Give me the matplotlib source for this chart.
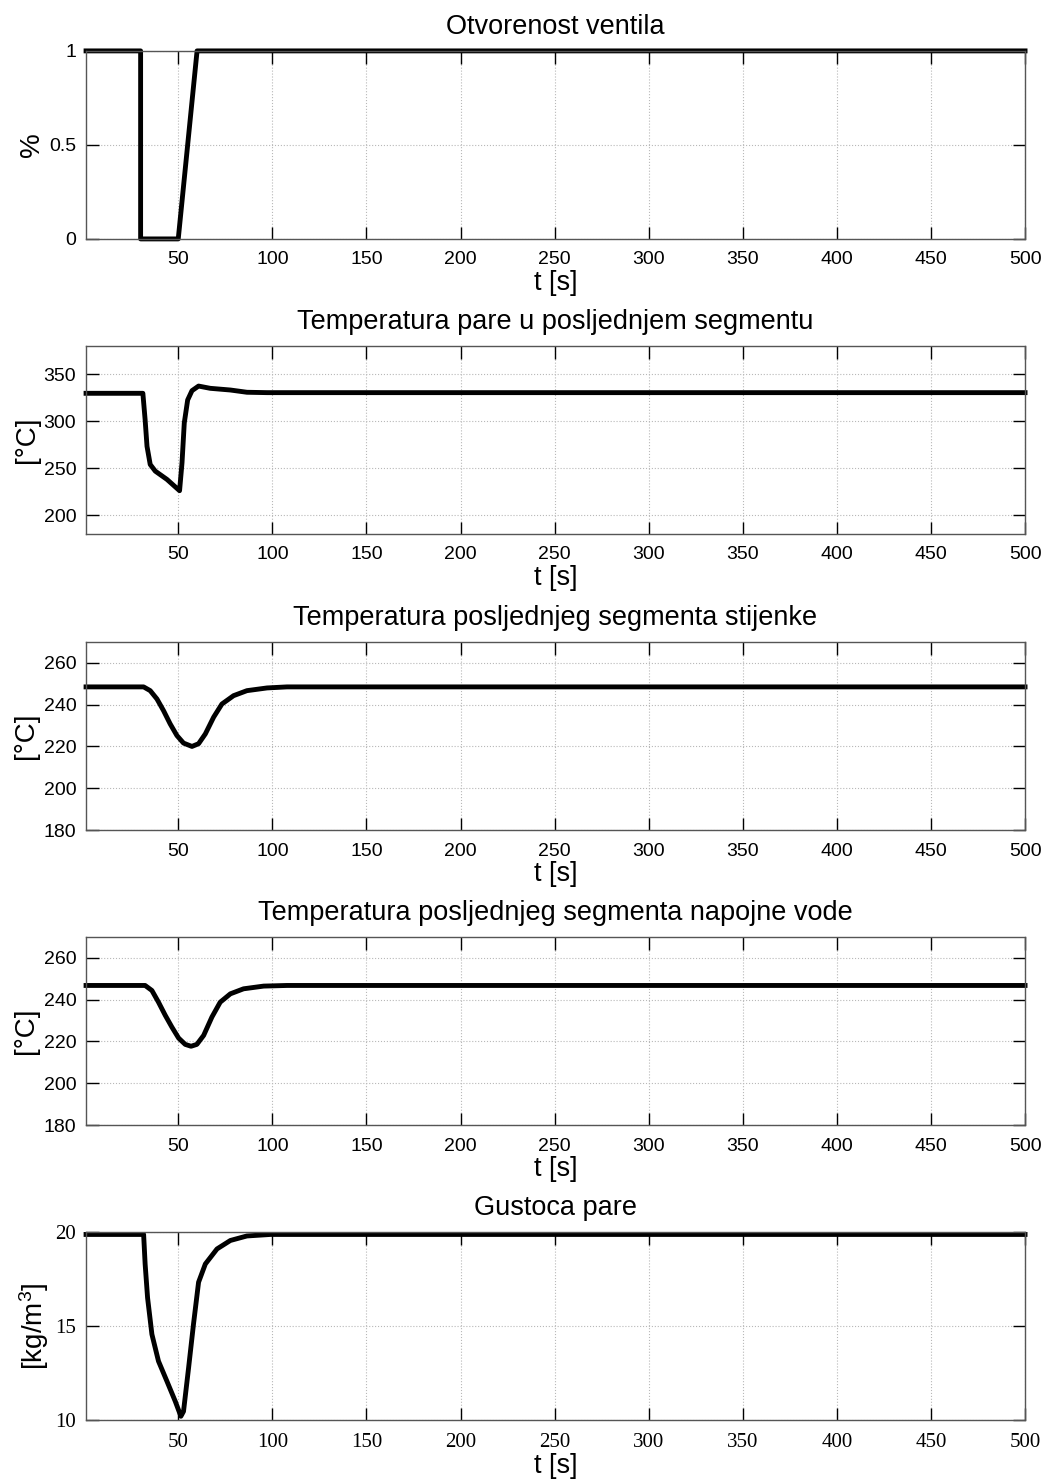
"""Five stacked MATLAB-style response plots for a valve closing step."""

import matplotlib

matplotlib.use("Agg")
import matplotlib.pyplot as plt

plt.rcParams["font.family"] = ["Liberation Sans", "DejaVu Sans"]
plt.rcParams["mathtext.fontset"] = "custom"
plt.rcParams["mathtext.rm"] = "Liberation Sans"
plt.rcParams["mathtext.it"] = "Liberation Sans:italic"

# valve opening
t_valve = [1, 30, 30, 50, 60, 500]
valve = [1, 1, 0, 0, 1, 1]

# steam temperature, last segment
t_steam = [1, 31.2, 32.4, 33.4, 35.1, 37.8, 44.0, 50.7, 52.0, 53.2, 55.0, 57.3,
           60.8, 67.0, 77.7, 86.5, 97.2, 500]
steam_temp = [329.6, 329.6, 301.4, 273.2, 253.9, 246.8, 238, 226, 255.7, 298, 322.5, 332.4,
              337.3, 334.9, 333.1, 330.7, 330.3, 330.3]

# wall temperature, last segment
t_wall = [1, 31.6, 35.1, 38.7, 42.2, 45.7, 49.3, 52.8, 57.3, 60.8, 64.4, 68.8,
          73.2, 79.4, 86.5, 97.2, 107.8, 500]
wall_temp = [248.5, 248.5, 246.7, 242.7, 237.1, 230.8, 225.2, 221.6, 220, 221.3, 226, 234,
             240.3, 244.3, 246.7, 248, 248.5, 248.5]

# feed water temperature, last segment
t_water = [1, 32.4, 36.0, 39.5, 43.1, 46.6, 50.2, 53.7, 56.8, 59.9, 63.5, 67.9,
           72.3, 77.7, 84.7, 95.4, 107.8, 500]
water_temp = [246.8, 246.8, 244.4, 238.8, 232.5, 226.9, 221.6, 218.6, 217.7, 218.6, 222.9, 231.7,
              238.8, 242.8, 245.2, 246.5, 246.8, 246.8]

# steam density
t_dens = [1, 31.6, 32.4, 33.7, 36.0, 39.5, 44.0, 48.4, 51.4, 52.8, 55.5, 58.1,
          60.8, 64.4, 70.6, 77.7, 86.5, 98.9, 500]
density = [19.87, 19.87, 18.3, 16.5, 14.56, 13.13, 12.06, 11.0, 10.2, 10.46, 12.78, 15.1,
           17.33, 18.3, 19.1, 19.55, 19.79, 19.87, 19.87]

titles = [
    "Otvorenost ventila",
    "Temperatura pare u posljednjem segmentu",
    "Temperatura posljednjeg segmenta stijenke",
    "Temperatura posljednjeg segmenta napojne vode",
    "Gustoca pare",
]
ylabels = ["%", "[°C]", "[°C]", "[°C]", "[kg/m$^{3}$]"]
x_ticks = list(range(50, 501, 50))
y_ticks = [[0, 0.5, 1], [200, 250, 300, 350], [180, 200, 220, 240, 260],
           [180, 200, 220, 240, 260], [10, 15, 20]]
y_limits = [(0, 1), (180, 380), (180, 270), (180, 270), (10, 20)]
tick_labels_1 = ["0", "0.5", "1"]

series = [(t_valve, valve), (t_steam, steam_temp), (t_wall, wall_temp),
          (t_water, water_temp), (t_dens, density)]

fig = plt.figure(figsize=(10.48, 14.84), dpi=100)
bottoms = [0.8390, 0.6402, 0.4407, 0.2419, 0.0431]
left, width, height = 0.0821, 0.896, 0.1267

for i, ((t, y), bottom) in enumerate(zip(series, bottoms)):
    ax = fig.add_axes([left, bottom, width, height])
    ax.plot(t, y, color="black", linewidth=3.5, solid_joinstyle="round", clip_on=False)
    ax.set_xlim(1, 500)
    ax.set_ylim(*y_limits[i])
    ax.set_xticks(x_ticks)
    ax.set_yticks(y_ticks[i])
    if i == 0:
        ax.set_yticklabels(tick_labels_1)
    ax.grid(True, color="#b8b8b8", linestyle=":", linewidth=0.8)
    ax.tick_params(direction="in", length=9, width=1.0, top=True, right=True,
                   labelsize=14, color="black")
    ax.tick_params(axis="x", pad=9)
    ax.tick_params(axis="y", pad=7)
    for s in ax.spines.values():
        s.set_color("#555555")
        s.set_linewidth(1.0)
    if i == 4:
        for lab in ax.get_xticklabels() + ax.get_yticklabels():
            lab.set_family(["Liberation Serif", "DejaVu Serif"])
            lab.set_fontsize(15)
    ax.set_title(titles[i], fontsize=19.5, pad=12)
    ax.set_xlabel("t [s]", fontsize=19.5, labelpad=1)
    ax.set_ylabel(ylabels[i], fontsize=20, labelpad=3)

fig.savefig("out.png", dpi=100)
